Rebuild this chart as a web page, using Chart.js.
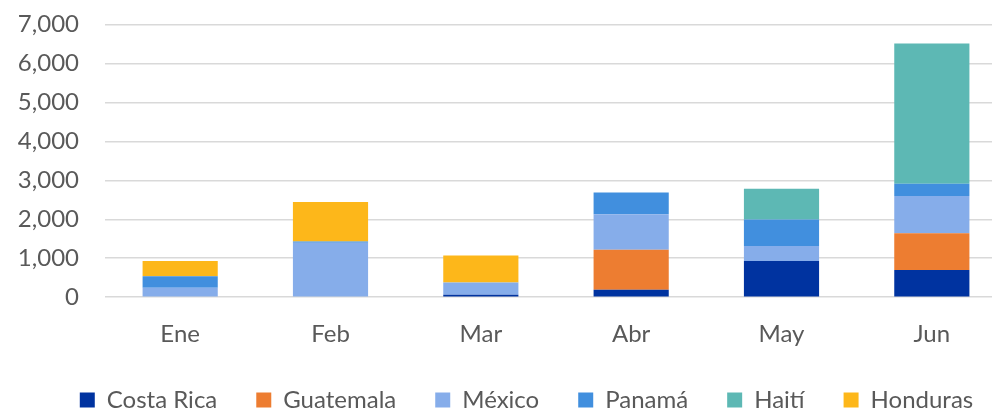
<!DOCTYPE html>
<html>
<head>
<meta charset="utf-8">
<script src="https://cdn.jsdelivr.net/npm/chart.js@4"></script>
<style>
  html, body { margin: 0; padding: 0; background: #fff; overflow: hidden; }
  .wrap { position: relative; width: 1054px; height: 438px; margin-top: -16px; }
</style>
</head>
<body>
<div class="wrap"><canvas id="chart"></canvas></div>
<script>
const months = ['Ene', 'Feb', 'Mar', 'Abr', 'May', 'Jun'];

const costaRica = [0, 0, 60, 190, 930, 700];
const guatemala = [0, 0, 0, 1030, 0, 940];
const mexico    = [240, 1400, 320, 910, 385, 955];
const panama    = [300, 30, 0, 555, 680, 315];
const haiti     = [0, 0, 0, 0, 790, 3600];
const honduras  = [390, 1010, 690, 0, 0, 0];

const textColor = '#595959';
const fontFamily = 'Lato, "Open Sans", sans-serif';

function series(label, data, color) {
    return {
        label: label,
        data: data,
        backgroundColor: color,
        borderWidth: 0,
        categoryPercentage: 1,
        barPercentage: 0.5
    };
}

// legend is centred on the whole canvas in the original, nudge it right
const legendShift = {
    id: 'legendShift',
    afterLayout(chart) {
        chart.legend.left += 18;
        chart.legend.right += 18;
    }
};

const ctx = document.getElementById('chart').getContext('2d');
new Chart(ctx, {
    type: 'bar',
    data: {
        labels: months,
        datasets: [
            series('Costa Rica', costaRica, '#0033A0'),
            series('Guatemala', guatemala, '#ED7D31'),
            series('México', mexico, '#86ADEA'),
            series('Panamá', panama, '#418FDE'),
            series('Haití', haiti, '#5DB8B4'),
            series('Honduras', honduras, '#FDB71A')
        ]
    },
    options: {
        responsive: true,
        maintainAspectRatio: false,
        animation: false,
        layout: { padding: { left: 10, right: 47, top: 0, bottom: 0 } },
        scales: {
            x: {
                stacked: true,
                // hidden tick marks used as the gap above the month labels
                grid: { display: false, drawTicks: true, tickLength: 23 },
                border: { display: false },
                ticks: { color: textColor, font: { family: fontFamily, size: 24 }, padding: 0 }
            },
            y: {
                stacked: true,
                min: 0,
                max: 7000,
                ticks: {
                    stepSize: 1000,
                    color: textColor,
                    padding: 26,
                    font: { family: fontFamily, size: 24 },
                    callback: v => v.toLocaleString('en-US')
                },
                grid: { color: '#d9d9d9', lineWidth: 1.5, drawTicks: false },
                border: { display: false },
                afterFit: scale => { scale.width = 95; }
            }
        },
        plugins: {
            legend: {
                position: 'bottom',
                labels: {
                    boxWidth: 15,
                    boxHeight: 15,
                    padding: 39,
                    color: textColor,
                    font: { family: fontFamily, size: 24 }
                }
            },
            tooltip: { enabled: false }
        }
    },
    plugins: [legendShift]
});
</script>
</body>
</html>
